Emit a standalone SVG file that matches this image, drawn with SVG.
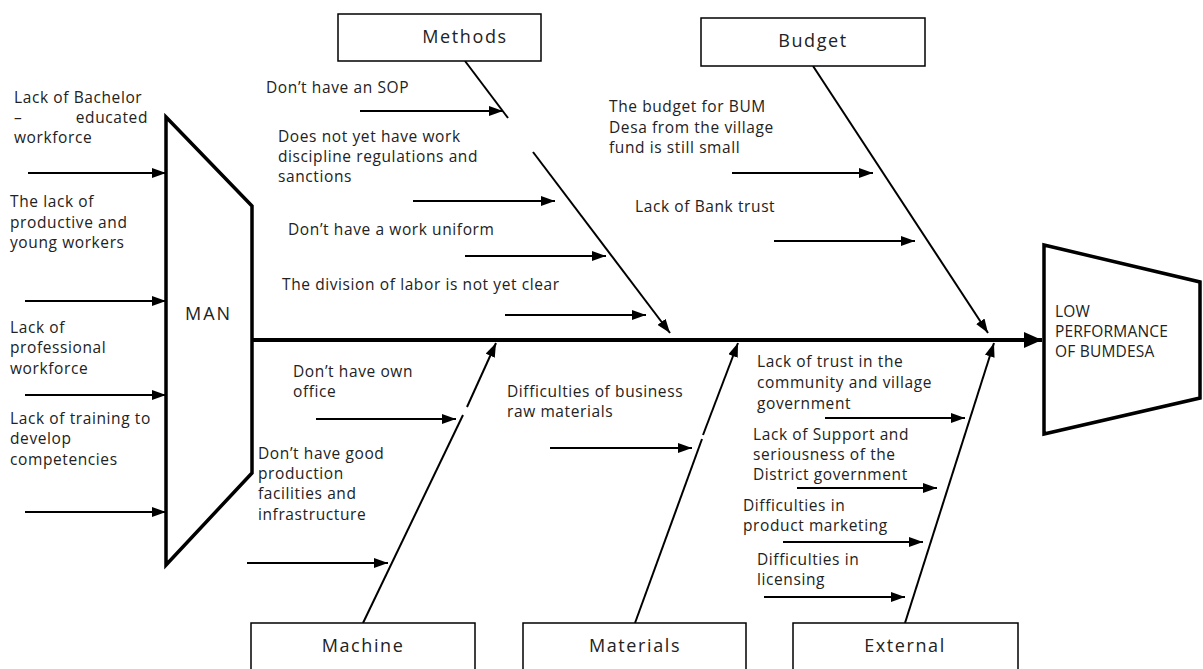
<svg xmlns="http://www.w3.org/2000/svg" width="1203" height="669" viewBox="0 0 1203 669">
<style>
text{font-family:"Open Sans","Noto Sans","Liberation Sans",sans-serif;font-size:15.5px;letter-spacing:0.6px;fill:#222}
.box{fill:#fff;stroke:#000;stroke-width:1.5}
.big{fill:#fff;stroke:#000;stroke-width:3.5}
.bone{stroke:#000;stroke-width:2;fill:none}
.arr{stroke:#000;stroke-width:2;fill:none;marker-end:url(#ah)}
.cat{font-size:18px;letter-spacing:1.6px;text-anchor:middle}
.eff{font-size:15.5px;letter-spacing:0.2px}
.man{font-size:18px;letter-spacing:2px}
</style>
<defs>
<marker id="ah" markerUnits="userSpaceOnUse" markerWidth="14" markerHeight="10" refX="14" refY="5" orient="auto"><path d="M0,0 L14,5 L0,10 Z" fill="#000"/></marker>
<marker id="ahb" markerUnits="userSpaceOnUse" markerWidth="18" markerHeight="16" refX="18" refY="8" orient="auto"><path d="M0,0 L18,8 L0,16 Z" fill="#000"/></marker>
</defs>
<g id="connectors">
<line x1="252" y1="340" x2="1042" y2="340" stroke="#000" stroke-width="4" marker-end="url(#ahb)"/>
<line class="bone" x1="465" y1="61" x2="508" y2="118"/>
<line class="bone" x1="533" y1="152" x2="670" y2="333" marker-end="url(#ah)"/>
<line class="bone" x1="813" y1="66" x2="988" y2="333" marker-end="url(#ah)"/>
<line class="bone" x1="363" y1="623" x2="463" y2="415"/>
<line class="bone" x1="467" y1="407" x2="496" y2="343" marker-end="url(#ah)"/>
<line class="bone" x1="635" y1="623" x2="702" y2="439"/>
<line class="bone" x1="703" y1="435" x2="738" y2="343" marker-end="url(#ah)"/>
<line class="bone" x1="905" y1="623" x2="994" y2="343" marker-end="url(#ah)"/>
<line class="arr" x1="28" y1="173" x2="166" y2="173"/>
<line class="arr" x1="25" y1="301" x2="166" y2="301"/>
<line class="arr" x1="25" y1="395" x2="166" y2="395"/>
<line class="arr" x1="25" y1="512" x2="166" y2="512"/>
<line class="arr" x1="360" y1="111" x2="503" y2="111"/>
<line class="arr" x1="413" y1="201" x2="555" y2="201"/>
<line class="arr" x1="465" y1="256" x2="606" y2="256"/>
<line class="arr" x1="505" y1="315" x2="646" y2="315"/>
<line class="arr" x1="732" y1="173" x2="873" y2="173"/>
<line class="arr" x1="774" y1="241" x2="915" y2="241"/>
<line class="arr" x1="316" y1="419" x2="456" y2="419"/>
<line class="arr" x1="247" y1="563" x2="388" y2="563"/>
<line class="arr" x1="550" y1="448" x2="692" y2="448"/>
<line class="arr" x1="825" y1="418" x2="965" y2="418"/>
<line class="arr" x1="797" y1="488" x2="937" y2="488"/>
<line class="arr" x1="783" y1="542" x2="923" y2="542"/>
<line class="arr" x1="764" y1="597" x2="905" y2="597"/>
</g>
<g id="man">
<polygon class="big" points="166,117 252,206 252,473 166,565"/>
<text class="man" x="185" y="320">MAN</text>
</g>
<g id="effect">
<polygon class="big" points="1044,245 1200,282 1200,398 1044,434"/>
<text class="eff" x="1055" y="317">LOW</text>
<text class="eff" x="1055" y="337">PERFORMANCE</text>
<text class="eff" x="1055" y="357">OF BUMDESA</text>
</g>
<g id="methods">
<rect class="box" x="338" y="14" width="203" height="47"/>
<text class="cat" x="465" y="43">Methods</text>
</g>
<g id="budget">
<rect class="box" x="701" y="18" width="224" height="48"/>
<text class="cat" x="813" y="47">Budget</text>
</g>
<g id="machine">
<rect class="box" x="251" y="623" width="224" height="50"/>
<text class="cat" x="363" y="652">Machine</text>
</g>
<g id="materials">
<rect class="box" x="523" y="623" width="223" height="50"/>
<text class="cat" x="635" y="652">Materials</text>
</g>
<g id="external">
<rect class="box" x="793" y="623" width="225" height="50"/>
<text class="cat" x="905" y="652">External</text>
</g>
<g id="man-causes">
<text x="14" y="103">Lack of Bachelor</text>
<text x="14" y="123">–</text><text x="148" y="123" text-anchor="end">educated</text>
<text x="14" y="143">workforce</text>
<text x="10" y="207">The lack of</text>
<text x="10" y="228">productive and</text>
<text x="10" y="248">young workers</text>
<text x="10" y="333">Lack of</text>
<text x="10" y="353">professional</text>
<text x="10" y="374">workforce</text>
<text x="10" y="424">Lack of training to</text>
<text x="10" y="444">develop</text>
<text x="10" y="465">competencies</text>
</g>
<g id="methods-causes">
<text x="266" y="93">Don’t have an SOP</text>
<text x="278" y="142">Does not yet have work</text>
<text x="278" y="162">discipline regulations and</text>
<text x="278" y="182">sanctions</text>
<text x="288" y="235">Don’t have a work uniform</text>
<text x="282" y="290">The division of labor is not yet clear</text>
</g>
<g id="budget-causes">
<text x="609" y="112">The budget for BUM</text>
<text x="609" y="133">Desa from the village</text>
<text x="609" y="153">fund is still small</text>
<text x="635" y="212">Lack of Bank trust</text>
</g>
<g id="machine-causes">
<text x="293" y="377">Don’t have own</text>
<text x="293" y="397">office</text>
<text x="258" y="459">Don’t have good</text>
<text x="258" y="479">production</text>
<text x="258" y="499">facilities and</text>
<text x="258" y="520">infrastructure</text>
</g>
<g id="materials-causes">
<text x="507" y="397">Difficulties of business</text>
<text x="507" y="417">raw materials</text>
</g>
<g id="external-causes">
<text x="757" y="367">Lack of trust in the</text>
<text x="757" y="388">community and village</text>
<text x="757" y="409">government</text>
<text x="753" y="440">Lack of Support and</text>
<text x="753" y="460">seriousness of the</text>
<text x="753" y="480">District government</text>
<text x="743" y="511">Difficulties in</text>
<text x="743" y="531">product marketing</text>
<text x="757" y="565">Difficulties in</text>
<text x="757" y="585">licensing</text>
</g>
</svg>
